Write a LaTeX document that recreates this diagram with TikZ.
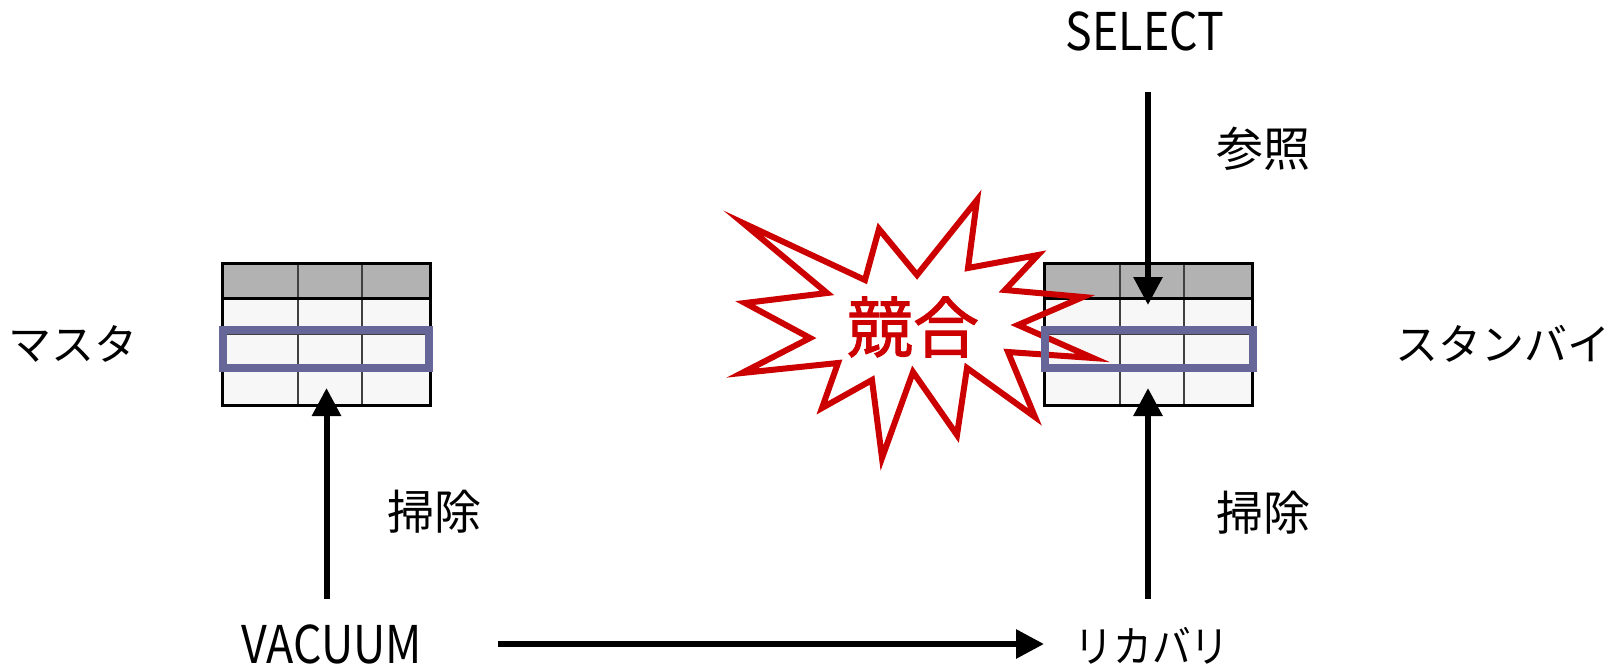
\documentclass[tikz,border=0pt]{standalone}
\usepackage{fontspec}
\setmainfont{Noto Sans CJK JP}
\newfontfamily\clashfont[FakeBold=1.5]{Noto Sans CJK JP}
\usetikzlibrary{arrows.meta}

\definecolor{headgray}{RGB}{178,178,178}
\definecolor{cellgray}{RGB}{247,247,247}
\definecolor{rowframe}{RGB}{102,102,153}
\definecolor{clashred}{RGB}{204,0,0}

\begin{document}
\begin{tikzpicture}[x=1pt,y=-1pt,
  lbl/.style={font=\fontsize{43}{50}\selectfont},
  kanji/.style={font=\fontsize{47}{54}\selectfont},
  latin/.style={font=\fontsize{52}{60}\selectfont, xscale=0.86},
  arr/.style={line width=6pt, -{Triangle[length=28pt,width=28pt]}}]
 \useasboundingbox (0,0) rectangle (1610,669);
 % the two tables
 \foreach \tx in {222,1044}{
  \fill[cellgray] (\tx,263) rectangle ++(208,142);
  \fill[headgray] (\tx,263) rectangle ++(208,35);
  \draw[black!75, line width=1.6pt] (\tx,334) -- ++(208,0);
  \draw[black!75, line width=1.6pt] (\tx,369.5) -- ++(208,0);
  \draw[black!75, line width=1.6pt] (\tx+76,263) -- ++(0,142);
  \draw[black!75, line width=1.6pt] (\tx+140,263) -- ++(0,142);
  \draw[black, line width=3pt] (\tx,298) -- ++(208,0);
  \draw[black, line width=3pt] (\tx,263) rectangle ++(208,142);
 }
 % burst
 \draw[clashred, line width=6pt, line join=miter]
  (743,223) -- (865,280) -- (879,229) -- (917,275) -- (977,200) -- (968,268)
  -- (1038,255) -- (1005,290) -- (1083,297) -- (1018,325) -- (1093,358)
  -- (1008,352) -- (1035,417) -- (967,368) -- (957,435) -- (913,372)
  -- (882,458) -- (872,380) -- (822,408) -- (838,363) -- (742,373)
  -- (810,338) -- (745,303) -- (827,293) -- cycle;
 \node[font=\fontsize{66}{70}\clashfont, text=clashred] (clash) at (913,327) {競合};
 % marked rows
 \draw[rowframe, line width=8pt] (222.5,330) rectangle (429,368);
 \draw[rowframe, line width=8pt] (1045,330) rectangle (1253,368);
 % labels
 \node[lbl] (master) at (73,344) {マスタ};
 \node[lbl] (standby) at (1503,344) {スタンバイ};
 \node[kanji] (sweepm) at (434,512) {掃除};
 \node[kanji] (sweeps) at (1263,513) {掃除};
 \node[kanji] (refer) at (1263,149) {参照};
 \node[latin] (select) at (1145,31) {SELECT};
 \node[latin] (vacuum) at (332,644) {VACUUM};
 \node[lbl, xscale=0.9] (recover) at (1152,646) {リカバリ};
 % arrows
 \coordinate (selfrom) at (1148,92);
 \coordinate (selto) at (1148,305);
 \coordinate (vacfrom) at (326.5,599);
 \coordinate (vacto) at (326.5,388);
 \coordinate (recfrom) at (1148,599);
 \coordinate (recto) at (1148,388);
 \coordinate (flowfrom) at (498,644);
 \coordinate (flowto) at (1044,644);
 \draw[arr] (selfrom) -- (selto);
 \draw[arr] (vacfrom) -- (vacto);
 \draw[arr] (recfrom) -- (recto);
 \draw[arr] (flowfrom) -- (flowto);
\end{tikzpicture}
\end{document}
